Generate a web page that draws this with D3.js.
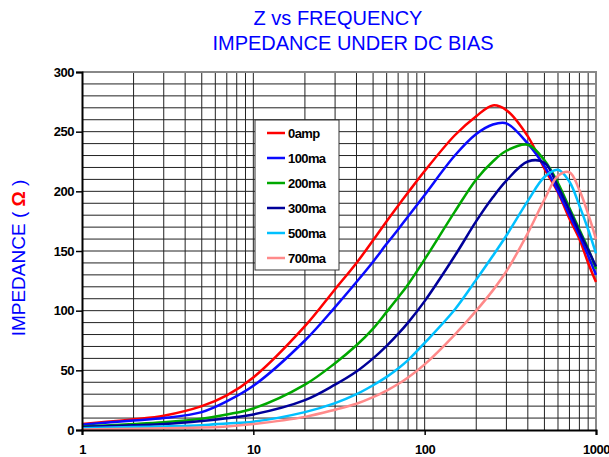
<!DOCTYPE html>
<html>
<head>
<meta charset="utf-8">
<script src="https://cdn.jsdelivr.net/npm/d3@7"></script>
<style>
  body { margin: 0; background: #fff; }
  text { font-family: "Liberation Sans", Arial, sans-serif; }
</style>
</head>
<body>
<script>
var w = 609;
var h = 457;

// frequency points (x axis, log)
var freqs = [1, 2, 3, 5, 7, 10, 20, 30, 40, 50, 60, 70, 80, 100, 150, 200, 250, 300, 400, 500, 600, 700, 800, 900, 1000];

var amp0   = [5, 9, 12, 20, 29, 44, 87, 118, 140, 159, 175, 188, 199, 217, 247, 263, 272, 268, 246, 219, 199, 177, 160, 140, 124];
var ma100  = [4.5, 8, 10, 15, 24, 37, 75, 103, 124, 141, 156, 168, 179, 197, 230, 248, 256, 257, 240, 221, 200, 180, 163, 146, 130];
var ma200  = [3, 5, 6.5, 9.5, 13, 18, 38, 56, 71, 85, 99, 111, 122, 143, 183, 210, 225, 234, 239, 226, 207, 186, 168, 152, 135];
var ma300  = [2.5, 4, 5, 7.5, 9.8, 13, 25, 38, 49, 60, 70.5, 80.5, 90, 108, 146, 175, 195, 209, 225, 224, 204, 184, 166, 151, 137];
var ma500  = [1.5, 2.5, 3, 4, 5.5, 7, 15, 22.5, 30, 37.5, 44.5, 51.5, 58.5, 73, 101, 126, 146, 163, 192, 212, 218, 208, 188, 168, 148];
var ma700  = [0.5, 1, 1.5, 2, 3, 5, 11, 17, 22, 27.5, 33, 38.5, 44, 55, 80, 100, 117, 133, 165, 193, 213, 216, 201, 181, 160];

var seriesNames = ["0amp", "100ma", "200ma", "300ma", "500ma", "700ma"];
var seriesValues = [amp0, ma100, ma200, ma300, ma500, ma700];
var seriesColors = ["#ff0000", "#0a0aff", "#00a800", "#00009a", "#00c0ff", "#ff8a8a"];

var yTicks = [0, 50, 100, 150, 200, 250, 300];
var xTicks = [1, 10, 100, 1000];

var svg = d3.select("body")
    .append("svg")
    .attr("width", w)
    .attr("height", h);

var x = d3.scaleLog().domain([1, 1000]).range([82, 596]);
var y = d3.scaleLinear().domain([0, 300]).range([430, 72]);

// title
svg.append("text")
    .attr("x", 338).attr("y", 25)
    .attr("text-anchor", "middle")
    .style("font-size", "20px")
    .style("fill", "#0000ff")
    .text("Z vs FREQUENCY");
svg.append("text")
    .attr("x", 353).attr("y", 50)
    .attr("text-anchor", "middle")
    .style("font-size", "20px")
    .style("fill", "#0000ff")
    .text("IMPEDANCE UNDER DC BIAS");

// grid
var grid = svg.append("g").attr("class", "grid");
d3.range(10, 300, 10).forEach(function(v) {
  grid.append("line")
      .attr("x1", x(1)).attr("x2", x(1000))
      .attr("y1", y(v)).attr("y2", y(v))
      .style("stroke", "#222").style("stroke-width", 1);
});
var minor = [];
[1, 10, 100].forEach(function(d) {
  for (var k = 1; k <= 9; k++) minor.push(d * k);
});
minor.filter(function(f) { return f > 1; }).forEach(function(f) {
  grid.append("line")
      .attr("x1", x(f)).attr("x2", x(f))
      .attr("y1", y(0)).attr("y2", y(300))
      .style("stroke", "#222").style("stroke-width", 1);
});

// frame top/right
svg.append("line")
    .attr("x1", x(1)).attr("x2", x(1000) + 1)
    .attr("y1", y(300)).attr("y2", y(300))
    .style("stroke", "#888").style("stroke-width", 2);
svg.append("line")
    .attr("x1", x(1000)).attr("x2", x(1000))
    .attr("y1", y(300)).attr("y2", y(0))
    .style("stroke", "#888").style("stroke-width", 2);

// curves
var line = d3.line()
    .x(function(d) { return x(d[0]); })
    .y(function(d) { return y(d[1]); })
    .curve(d3.curveCatmullRom.alpha(0.5));

seriesValues.forEach(function(vals, i) {
  var pts = freqs.map(function(f, j) { return [f, vals[j]]; });
  svg.append("path")
      .datum(pts)
      .attr("d", line)
      .style("fill", "none")
      .style("stroke", seriesColors[i])
      .style("stroke-width", 2.5);
});

// axes
var yAxis = svg.append("g")
    .attr("transform", "translate(" + x(1) + ",0)")
    .call(d3.axisLeft(y).tickValues(yTicks).tickSize(6).tickPadding(2));
var xAxis = svg.append("g")
    .attr("transform", "translate(0," + y(0) + ")")
    .call(d3.axisBottom(x).tickValues(xTicks).tickSize(5).tickPadding(10).tickFormat(d3.format("d")));

[yAxis, xAxis].forEach(function(a) {
  a.select(".domain").style("stroke", "#000").style("stroke-width", 2);
  a.selectAll(".tick line").style("stroke", "#000").style("stroke-width", 1.5);
  a.selectAll("text")
      .style("font-family", "'Liberation Sans', Arial, sans-serif")
      .style("font-size", "13px")
      .style("font-weight", "bold")
      .style("letter-spacing", "-0.5px")
      .style("fill", "#000");
});

// y axis title
var yt = svg.append("text")
    .attr("transform", "translate(25,258) rotate(-90)")
    .attr("text-anchor", "middle")
    .style("font-size", "19px")
    .style("fill", "#0000ff");
yt.append("tspan").text("IMPEDANCE ( ");
yt.append("tspan").style("fill", "#ff0000").style("font-weight", "bold").text("Ω");
yt.append("tspan").text(" )");

// legend
var legend = svg.append("g").attr("transform", "translate(255,120)");
legend.append("rect")
    .attr("width", 84).attr("height", 150)
    .style("fill", "#fff")
    .style("stroke", "#333").style("stroke-width", 1);
seriesNames.forEach(function(name, i) {
  var yy = 13 + i * 25;
  legend.append("line")
      .attr("x1", 12).attr("x2", 30)
      .attr("y1", yy).attr("y2", yy)
      .style("stroke", seriesColors[i]).style("stroke-width", 2.5);
  legend.append("text")
      .attr("x", 33).attr("y", yy + 5)
      .style("font-size", "13px")
      .style("font-weight", "bold")
      .style("letter-spacing", "-0.6px")
      .text(name);
});
</script>
</body>
</html>
